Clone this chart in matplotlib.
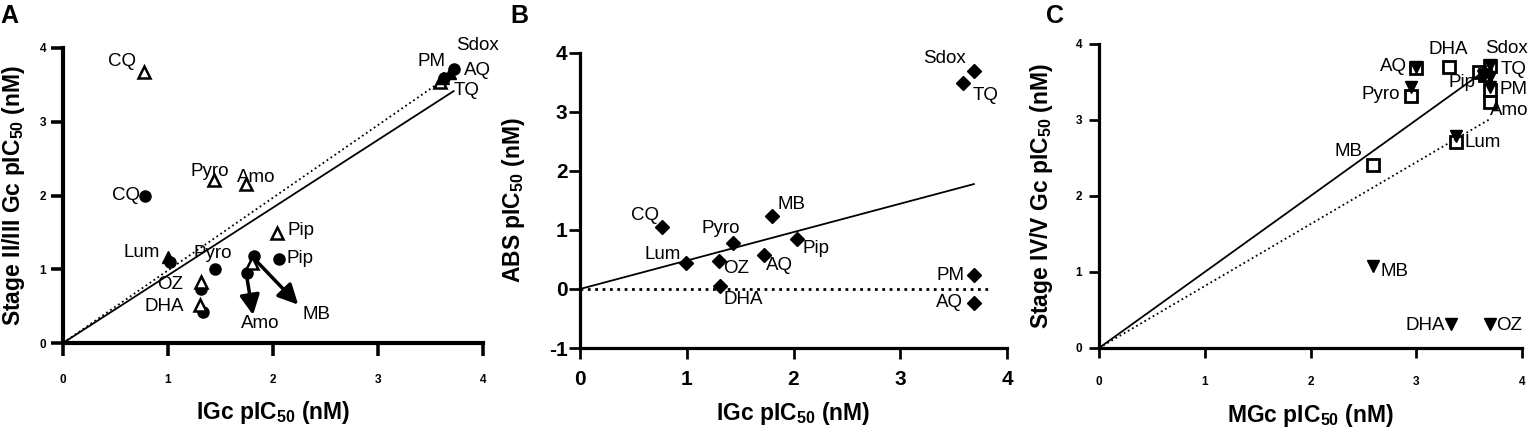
import numpy as np
import matplotlib
matplotlib.use("Agg")
import matplotlib.pyplot as plt

plt.rcParams["font.family"] = ["Liberation Sans", "DejaVu Sans"]
plt.rcParams["mathtext.fontset"] = "custom"
plt.rcParams["mathtext.rm"] = "Liberation Sans"
plt.rcParams["mathtext.bf"] = "Liberation Sans:bold"
plt.rcParams["axes.unicode_minus"] = False

# ---------- panel A: stage II/III vs IGc ----------
a_tri_x = [0.77, 1.44, 1.74, 2.04, 1.31, 1.30, 1.80, 3.59]
a_tri_y = [3.68, 2.21, 2.15, 1.49, 0.83, 0.52, 1.08, 3.54]
a_ftri_x = [1.00, 3.62, 3.69]
a_ftri_y = [1.17, 3.60, 3.66]
a_circ_x = [0.78, 1.45, 1.02, 1.31, 1.33, 1.82, 1.75, 2.06, 3.72, 3.63]
a_circ_y = [2.00, 1.00, 1.10, 0.73, 0.42, 1.18, 0.95, 1.14, 3.72, 3.60]
a_arrow_from = [(1.83, 1.13), (1.75, 0.90)]
a_arrow_to = [(2.24, 0.52), (1.81, 0.38)]
a_fit = {"solid": (0.918, 3.72), "dotted": (0.985, 3.59)}
a_labels = ["CQ", "CQ", "Pyro", "Amo", "Pip", "Lum", "Pyro", "Pip", "OZ", "DHA",
            "Amo", "MB", "Sdox", "PM", "AQ", "TQ"]
a_lab_xy = [(0.695, 3.82), (0.73, 2.0), (1.40, 2.32), (1.84, 2.25), (2.14, 1.52),
            (0.92, 1.23), (1.43, 1.22), (2.13, 1.15), (1.14, 0.79), (1.155, 0.50),
            (1.876, 0.27), (2.41, 0.38), (3.95, 4.03), (3.51, 3.82), (3.82, 3.69),
            (3.72, 3.42)]
a_lab_ha = ["right", "right", "center", "center", "left", "right", "center", "left",
            "right", "right", "center", "center", "center", "center", "left", "left"]

# ---------- panel B: ABS vs IGc ----------
b_x = [0.77, 0.99, 1.43, 1.30, 1.31, 1.80, 1.72, 2.03, 3.69, 3.59, 3.69, 3.69]
b_y = [1.045, 0.44, 0.78, 0.48, 0.045, 1.23, 0.58, 0.85, 3.70, 3.49, 0.23, -0.23]
b_fit = (0.482, 3.69)
b_zero_end = 3.85
b_labels = ["Sdox", "TQ", "CQ", "MB", "Pyro", "Lum", "Pip", "OZ", "AQ", "DHA", "PM", "AQ"]
b_lab_xy = [(3.41, 3.90), (3.80, 3.28), (0.61, 1.24), (1.98, 1.43), (1.32, 1.03),
            (0.77, 0.59), (2.21, 0.68), (1.46, 0.34), (1.87, 0.40), (1.53, -0.18),
            (3.47, 0.23), (3.46, -0.23)]

# ---------- panel C: stage IV/V vs MGc ----------
c_sq_x = [3.00, 3.31, 2.95, 3.59, 3.65, 3.70, 3.70, 3.70, 3.38, 2.59]
c_sq_y = [3.68, 3.70, 3.31, 3.63, 3.59, 3.71, 3.39, 3.24, 2.71, 2.41]
c_tri_x = [3.00, 2.95, 3.63, 3.70, 3.70, 3.70, 3.38, 2.59, 3.33, 3.70]
c_tri_y = [3.70, 3.44, 3.58, 3.72, 3.57, 3.44, 2.79, 1.08, 0.32, 0.32]
c_fit = {"solid": (1.0, 3.6), "dotted": (0.815, 3.70)}
c_labels = ["AQ", "DHA", "Sdox", "TQ", "Pip", "PM", "Amo", "Pyro", "Lum", "MB", "MB",
            "DHA", "OZ"]
c_lab_xy = [(2.91, 3.70), (3.30, 3.93), (3.85, 3.94), (3.795, 3.66), (3.43, 3.49),
            (3.79, 3.40), (3.70, 3.12), (2.85, 3.34), (3.46, 2.71), (2.49, 2.59),
            (2.66, 1.00), (3.27, 0.30), (3.76, 0.30)]
c_lab_ha = ["right", "center", "center", "left", "center", "left", "left", "right",
            "left", "right", "left", "right", "left"]

LAB_FS = 13.5
AX_FS = 16.5
W, H = 1531, 429


def frac(l, r, t, b):
    return [l / W, 1 - b / H, (r - l) / W, (b - t) / H]


def style(ax, spine_w, tick_fs, xpad, ypad, tlen):
    for s in ["top", "right"]:
        ax.spines[s].set_visible(False)
    for s in ["left", "bottom"]:
        ax.spines[s].set_linewidth(spine_w)
    ax.tick_params(width=spine_w * 0.85, length=tlen, labelsize=tick_fs)
    ax.tick_params(axis="x", pad=xpad)
    ax.tick_params(axis="y", pad=ypad)
    for t in ax.get_xticklabels() + ax.get_yticklabels():
        t.set_fontweight("bold")


fig = plt.figure(figsize=(W / 100, H / 100), dpi=100)

# ---- A ----
ax = fig.add_axes(frac(63, 483, 48, 343))
ax.set_xlim(0, 4)
ax.set_ylim(0, 4)
ax.set_xticks([0, 1, 2, 3, 4])
ax.set_yticks([0, 1, 2, 3, 4])
for key, ls in [("dotted", ":"), ("solid", "-")]:
    k, xe = a_fit[key]
    xs = np.array([0, xe])
    ax.plot(xs, k * xs, color="black", ls=ls, lw=1.3)
ax.plot(a_circ_x, a_circ_y, "o", color="black", ms=8, clip_on=False)
ax.plot(a_tri_x, a_tri_y, "^", mfc="white", mec="black", mew=1.8, ms=9, clip_on=False)
ax.plot(a_ftri_x, a_ftri_y, "^", color="black", ms=9, clip_on=False)
for p0, p1 in zip(a_arrow_from, a_arrow_to):
    ax.annotate("", xy=p1, xytext=p0,
                arrowprops=dict(arrowstyle="-|>", color="black", lw=2.5,
                                mutation_scale=30, shrinkA=0, shrinkB=0))
for txt, (x, y), ha in zip(a_labels, a_lab_xy, a_lab_ha):
    ax.text(x, y, txt, ha=ha, va="center", fontsize=LAB_FS)
style(ax, 3.0, 8.5, 13, 3, 9)
ax.set_xlabel(r"IGc pIC$_{\mathbf{50}}$ (nM)", fontsize=AX_FS, fontweight="bold")
ax.set_ylabel(r"Stage II/III Gc pIC$_{\mathbf{50}}$ (nM)", fontsize=AX_FS, fontweight="bold")
ax.xaxis.set_label_coords(0.5, -0.19)
ax.yaxis.set_label_coords(-0.086, 0.5)

# ---- B ----
ax = fig.add_axes(frac(580, 1007, 53, 348))
ax.set_xlim(0, 4)
ax.set_ylim(-1, 4)
ax.set_xticks([0, 1, 2, 3, 4])
ax.set_yticks([-1, 0, 1, 2, 3, 4])
k, xe = b_fit
xs = np.array([0, xe])
ax.plot(xs, k * xs, color="black", lw=1.3)
ax.plot([0, b_zero_end], [0, 0], color="black", ls=":", lw=2)
ax.plot(b_x, b_y, "D", color="black", ms=7.5, clip_on=False)
for txt, (x, y) in zip(b_labels, b_lab_xy):
    ax.text(x, y, txt, ha="center", va="center", fontsize=LAB_FS)
style(ax, 2.3, 15, 8, 1, 8)
ax.set_xlabel(r"IGc pIC$_{\mathbf{50}}$ (nM)", fontsize=AX_FS, fontweight="bold")
ax.set_ylabel(r"ABS pIC$_{\mathbf{50}}$ (nM)", fontsize=AX_FS, fontweight="bold")
ax.xaxis.set_label_coords(0.5, -0.176)
ax.yaxis.set_label_coords(-0.124, 0.5)

# ---- C ----
ax = fig.add_axes(frac(1099, 1522, 44, 348))
ax.set_xlim(0, 4)
ax.set_ylim(0, 4)
ax.set_xticks([0, 1, 2, 3, 4])
ax.set_yticks([0, 1, 2, 3, 4])
for key, ls in [("dotted", ":"), ("solid", "-")]:
    k, xe = c_fit[key]
    xs = np.array([0, xe])
    ax.plot(xs, k * xs, color="black", ls=ls, lw=1.3)
ax.plot(c_tri_x, c_tri_y, "v", color="black", ms=8.5, clip_on=False)
ax.plot(c_sq_x, c_sq_y, "s", mfc="none", mec="black", mew=2, ms=8.5, clip_on=False)
for txt, (x, y), ha in zip(c_labels, c_lab_xy, c_lab_ha):
    ax.text(x, y, txt, ha=ha, va="center", fontsize=LAB_FS)
style(ax, 2.3, 8.5, 13, 5, 7)
ax.set_xlabel(r"MGc pIC$_{\mathbf{50}}$ (nM)", fontsize=AX_FS, fontweight="bold")
ax.set_ylabel(r"Stage IV/V Gc pIC$_{\mathbf{50}}$ (nM)", fontsize=AX_FS, fontweight="bold")
ax.xaxis.set_label_coords(0.5, -0.178)
ax.yaxis.set_label_coords(-0.104, 0.5)

# panel letters
for letter, px in [("A", 0), ("B", 510), ("C", 1046)]:
    fig.text(px / W, 1 - 4 / H, letter, ha="left", va="top", fontsize=18, fontweight="bold")

fig.savefig("out.png", dpi=100)
